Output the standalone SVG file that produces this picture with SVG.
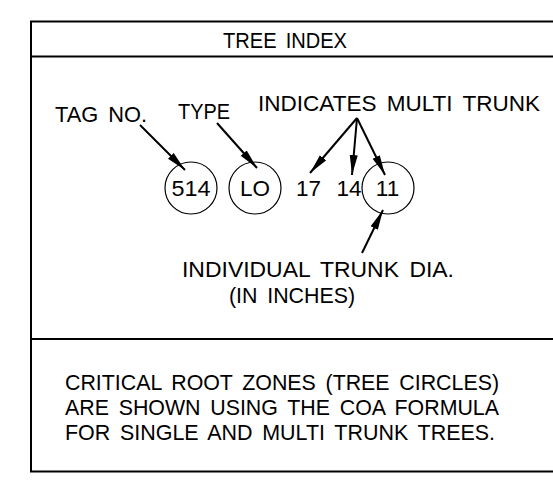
<svg xmlns="http://www.w3.org/2000/svg" width="553" height="484" viewBox="0 0 553 484">
<style>
text{font-family:"Liberation Sans",Arial,sans-serif;font-size:22.5px;fill:#000;word-spacing:4px}
.frame{stroke:#000;stroke-width:2;fill:none}
.ring{stroke:#000;stroke-width:1.2;fill:none}
.lead{stroke:#000;stroke-width:2;fill:none;marker-end:url(#ah)}
</style>
<defs>
<marker id="ah" markerUnits="userSpaceOnUse" markerWidth="22" markerHeight="10" refX="20" refY="5" orient="auto" viewBox="0 0 22 10">
<path d="M0,1 L20,5 L0,9 Z" fill="#000"/>
</marker>
</defs>
<g id="frame">
<path class="frame" d="M553,21.5 H31 V471.5 H553 M31,56.5 H553 M31,339 H553"/>
</g>
<g id="title"><text x="285" y="47.5" text-anchor="middle" textLength="124" lengthAdjust="spacingAndGlyphs">TREE INDEX</text></g>
<g id="tag-label"><text x="55" y="122" textLength="92" lengthAdjust="spacingAndGlyphs">TAG NO.</text></g>
<g id="type-label"><text x="178" y="119" textLength="52" lengthAdjust="spacingAndGlyphs">TYPE</text></g>
<g id="multi-label"><text x="258" y="111" textLength="282" lengthAdjust="spacingAndGlyphs">INDICATES MULTI TRUNK</text></g>
<g id="tag-514"><circle class="ring" cx="191" cy="188" r="26"/><text x="191" y="196" text-anchor="middle" textLength="39" lengthAdjust="spacingAndGlyphs">514</text></g>
<g id="type-lo"><circle class="ring" cx="255" cy="188" r="26"/><text x="255" y="196" text-anchor="middle" textLength="30" lengthAdjust="spacingAndGlyphs">LO</text></g>
<g id="trunk-17"><text x="308.5" y="196" text-anchor="middle">17</text></g>
<g id="trunk-14"><text x="349" y="196" text-anchor="middle">14</text></g>
<g id="trunk-11"><circle class="ring" cx="388" cy="188" r="26"/><text x="387.5" y="196" text-anchor="middle">11</text></g>
<g id="dia-label"><text x="182" y="276.5" textLength="272" lengthAdjust="spacingAndGlyphs">INDIVIDUAL TRUNK DIA.</text><text x="229" y="302.5" textLength="126" lengthAdjust="spacingAndGlyphs">(IN INCHES)</text></g>
<g id="note"><text x="65" y="390" textLength="434" lengthAdjust="spacingAndGlyphs">CRITICAL ROOT ZONES (TREE CIRCLES)</text><text x="65" y="415" textLength="434" lengthAdjust="spacingAndGlyphs">ARE SHOWN USING THE COA FORMULA</text><text x="65" y="440" textLength="430" lengthAdjust="spacingAndGlyphs">FOR SINGLE AND MULTI TRUNK TREES.</text></g>
<g id="connectors">
<line class="lead" x1="140" y1="125" x2="185" y2="170"/>
<line class="lead" x1="217" y1="123" x2="257" y2="168"/>
<line class="lead" x1="357" y1="118" x2="310" y2="173"/>
<line class="lead" x1="357" y1="118" x2="352" y2="175"/>
<line class="lead" x1="357" y1="118" x2="385" y2="175"/>
<line class="lead" x1="362" y1="253" x2="383" y2="210"/>
</g>
</svg>
